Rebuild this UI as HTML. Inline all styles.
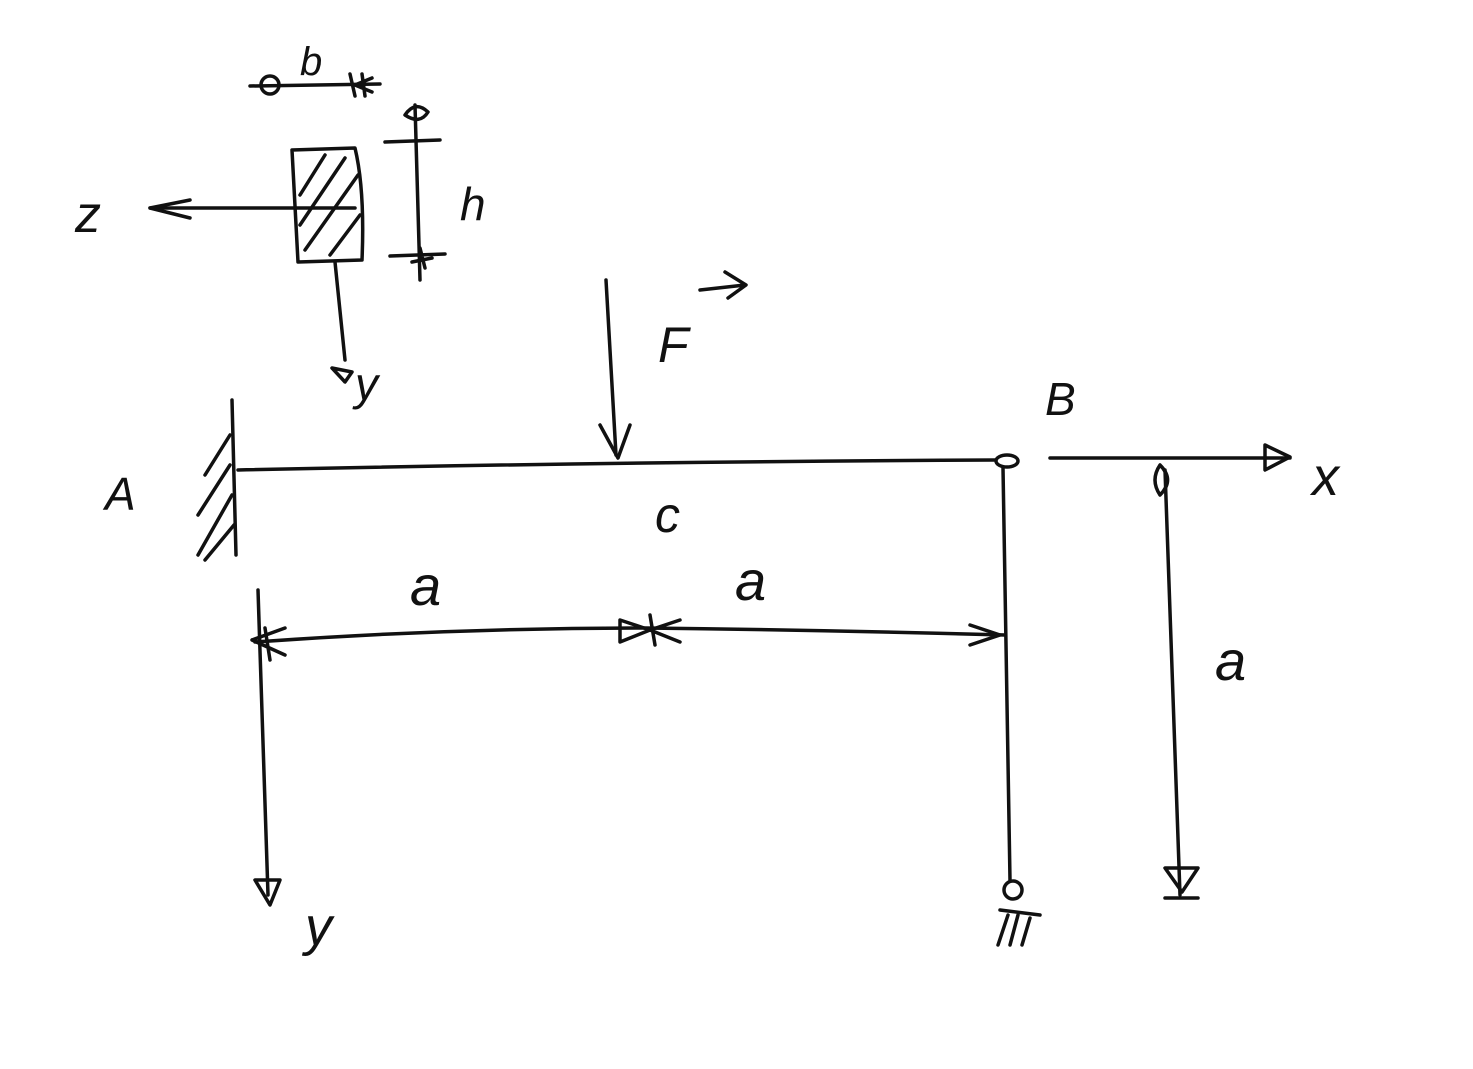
<!DOCTYPE html>
<html><head><meta charset="utf-8"><style>
html,body{margin:0;padding:0;background:#fff;}
svg{display:block;}
text{font-family:"Liberation Sans",sans-serif;fill:#111;}
</style></head><body>
<svg width="1473" height="1069" viewBox="0 0 1473 1069" xmlns="http://www.w3.org/2000/svg">
<g fill="none" stroke="#111" stroke-width="3.5" stroke-linecap="round" stroke-linejoin="round">
<!-- b dimension -->
<path d="M250 86 L380 84"/>
<circle cx="270" cy="85" r="9"/>
<path d="M350 74 L355 96 M362 74 L365 96 M355 85 L372 78 M355 85 L372 92"/>
<!-- h dimension -->
<path d="M415 105 L420 280"/>
<path d="M405 115 Q415 100 428 112 Q420 125 405 115"/>
<path d="M385 142 L440 140"/>
<path d="M390 256 L445 254 M420 248 L425 268 M412 262 L432 258"/>
<!-- cross section -->
<path d="M292 150 L355 148 Q365 190 362 260 L298 262 Z"/>
<path d="M300 195 L325 155 M300 225 L345 158 M305 250 L358 175 M330 255 L360 215"/>
<!-- z axis -->
<path d="M355 208 L150 208"/>
<path d="M190 200 L150 208 L190 218"/>
<!-- y axis small -->
<path d="M335 262 L345 360"/>
<path d="M332 368 L352 372 L345 382 Z"/>
<!-- Force -->
<path d="M606 280 L616 455"/>
<path d="M600 425 L618 458 L630 425"/>
<path d="M700 290 L745 285 M725 272 L746 285 L728 298"/>
<!-- Beam -->
<path d="M238 470 Q600 462 995 460"/>
<ellipse cx="1007" cy="461" rx="11" ry="6"/>
<!-- wall -->
<path d="M232 400 L236 555"/>
<path d="M230 435 L205 475 M230 465 L198 515 M232 495 L198 555 M234 525 L205 560"/>
<!-- dimension a-a -->
<path d="M255 642 Q450 628 645 628 Q820 630 1005 635"/>
<path d="M252 640 L285 628 M252 640 L285 655 M265 628 L270 660"/>
<path d="M620 620 L650 630 L620 642 Z M680 620 L650 630 L680 642 M650 615 L655 645"/>
<path d="M970 625 L1000 635 L970 645"/>
<!-- vertical y at A -->
<path d="M258 590 L268 895"/>
<path d="M255 880 L280 880 L270 905 Z"/>
<!-- vertical at B -->
<path d="M1003 468 L1010 880"/>
<circle cx="1013" cy="890" r="9"/>
<path d="M1000 910 L1040 915 M1008 915 L998 945 M1018 915 L1010 945 M1030 918 L1022 945"/>
<!-- right axes -->
<path d="M1050 458 L1290 458"/>
<path d="M1265 445 L1290 457 L1265 470 Z"/>
<path d="M1160 465 Q1150 480 1160 495 Q1175 480 1160 465"/>
<path d="M1165 470 L1180 895"/>
<path d="M1165 868 L1198 868 L1182 892 Z M1165 898 L1198 898"/>
</g>
<g font-size="46" font-style="italic">
<text x="300" y="75" font-size="40">b</text>
<text x="460" y="220">h</text>
<text x="75" y="232" font-size="52">z</text>
<text x="355" y="400">y</text>
<text x="658" y="362" font-size="50">F</text>
<text x="105" y="510">A</text>
<text x="1045" y="415">B</text>
<text x="655" y="532" font-size="50">c</text>
<text x="410" y="605" font-size="56">a</text>
<text x="735" y="600" font-size="56">a</text>
<text x="1215" y="680" font-size="56">a</text>
<text x="305" y="945" font-size="54">y</text>
<text x="1312" y="495" font-size="54">x</text>
</g>
</svg>
</body></html>
